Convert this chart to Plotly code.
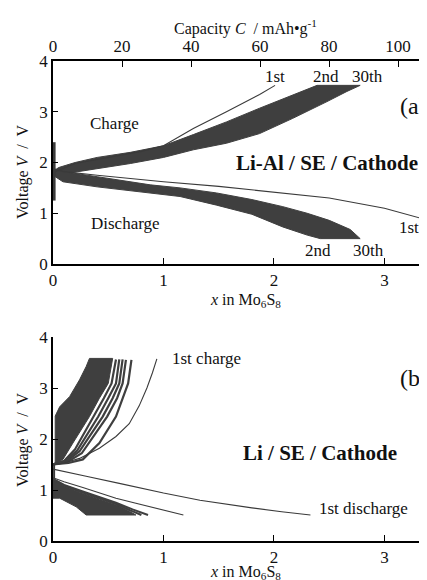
import plotly.graph_objects as go

# ---------------- DATA ----------------
# Panel (a): Li-Al / SE / Cathode  (x in Mo6S8, voltage V)
a_ch1_x = [0.0, 0.2, 0.5, 0.8, 1.0, 1.27, 1.57, 1.87, 2.01]
a_ch1_v = [1.8, 1.98, 2.1, 2.22, 2.33, 2.67, 3.0, 3.34, 3.52]
a_ch2_x = [0.0, 0.05, 0.2, 0.4, 0.7, 1.0, 1.27, 1.57, 1.87, 2.17, 2.39]
a_ch2_v = [1.82, 1.9, 2.0, 2.1, 2.2, 2.33, 2.55, 2.8, 3.07, 3.33, 3.52]
a_ch30_x = [0.0, 0.05, 0.2, 0.4, 0.7, 1.0, 1.27, 1.57, 1.87, 2.17, 2.48, 2.66, 2.78]
a_ch30_v = [1.78, 1.76, 1.82, 1.88, 1.98, 2.1, 2.25, 2.38, 2.57, 2.87, 3.2, 3.4, 3.52]
a_dis1_x = [0.0, 0.1, 0.4, 1.0, 1.5, 2.0, 2.5, 3.0, 3.4]
a_dis1_v = [1.88, 1.82, 1.75, 1.62, 1.53, 1.42, 1.3, 1.1, 0.86]
a_dis2_x = [0.0, 0.09, 0.4, 0.88, 1.15, 1.48, 1.8, 2.08, 2.3, 2.42]
a_dis2_v = [1.75, 1.62, 1.52, 1.40, 1.33, 1.16, 0.98, 0.73, 0.57, 0.5]
a_dis30_x = [0.0, 0.09, 0.4, 0.88, 1.15, 1.48, 1.8, 2.08, 2.3, 2.5, 2.69, 2.78]
a_dis30_v = [1.85, 1.82, 1.72, 1.56, 1.5, 1.40, 1.27, 1.13, 1.0, 0.86, 0.68, 0.5]
a_rest_x = [0.01, 0.01]
a_rest_v = [1.25, 2.4]

# Panel (b): Li / SE / Cathode
b_ch1_x = [0.0, 0.1, 0.24, 0.42, 0.57, 0.69, 0.78, 0.85, 0.9, 0.94]
b_ch1_v = [1.5, 1.53, 1.62, 1.82, 2.05, 2.3, 2.65, 3.0, 3.3, 3.57]
b_chL_x = [0.0, 0.02, 0.02, 0.06, 0.15, 0.24, 0.3, 0.33]
b_chL_v = [1.5, 1.53, 2.45, 2.63, 2.83, 3.16, 3.42, 3.58]
b_chD_x = [0.0, 0.09, 0.18, 0.33, 0.42, 0.5, 0.54]
b_chD_v = [1.5, 1.6, 1.92, 2.44, 2.8, 3.09, 3.58]
b_chs1_x = [0.0, 0.1, 0.2, 0.37, 0.46, 0.53, 0.57]
b_chs1_v = [1.5, 1.57, 1.8, 2.44, 2.8, 3.09, 3.56]
b_chs2_x = [0.0, 0.11, 0.22, 0.41, 0.5, 0.57, 0.6]
b_chs2_v = [1.5, 1.57, 1.78, 2.44, 2.8, 3.09, 3.56]
b_chs3_x = [0.0, 0.12, 0.24, 0.45, 0.54, 0.6, 0.63]
b_chs3_v = [1.5, 1.56, 1.76, 2.44, 2.8, 3.09, 3.56]
b_chs4_x = [0.0, 0.13, 0.26, 0.49, 0.58, 0.63, 0.66]
b_chs4_v = [1.5, 1.55, 1.72, 2.44, 2.8, 3.09, 3.55]
b_chs5_x = [0.0, 0.14, 0.27, 0.42, 0.57, 0.63, 0.68, 0.71]
b_chs5_v = [1.5, 1.53, 1.6, 1.92, 2.44, 2.8, 3.09, 3.55]
b_dis1_x = [0.0, 0.1, 0.3, 0.6, 0.87, 1.0, 1.33, 1.59, 1.8, 2.07, 2.33]
b_dis1_v = [1.41, 1.36, 1.27, 1.13, 1.0, 0.94, 0.8, 0.71, 0.65, 0.575, 0.51]
b_dis2_x = [0.0, 0.1, 0.27, 0.42, 0.57, 0.75, 0.9, 1.05, 1.18]
b_dis2_v = [1.24, 1.16, 1.05, 0.94, 0.84, 0.74, 0.66, 0.58, 0.51]
b_disL_x = [0.0, 0.0, 0.06, 0.13, 0.21, 0.3]
b_disL_v = [1.22, 0.84, 0.84, 0.76, 0.67, 0.51]
b_disD_x = [0.0, 0.1, 0.27, 0.42, 0.57, 0.68, 0.75]
b_disD_v = [1.2, 1.08, 0.93, 0.82, 0.71, 0.6, 0.51]
b_diss1_x = [0.0, 0.1, 0.27, 0.42, 0.57, 0.7, 0.8]
b_diss1_v = [1.21, 1.09, 0.95, 0.84, 0.73, 0.6, 0.51]
b_diss2_x = [0.0, 0.1, 0.27, 0.42, 0.57, 0.72, 0.86]
b_diss2_v = [1.22, 1.1, 0.97, 0.86, 0.75, 0.62, 0.51]
b_rest_x = [0.01, 0.01]
b_rest_v = [1.22, 1.5]

x_ticks = [0, 1, 2, 3]
v_ticks = [0, 1, 2, 3, 4]
cap_ticks = [0, 20, 40, 60, 80, 100]

# ---------------- STYLE ----------------
W, H = 427, 580
OFF = 8                      # page body margin
ML, MT = 53 - OFF, 61 - OFF
MR = W - (427 - OFF)
MB = H - (541 - OFF)
PW, PH = W - ML - MR, H - MT - MB
X_MAX = 3.385
CAP_MAX = 108.4
LINE = "#3a3a3a"
BAND = "#3f3f3f"
FONT = "Liberation Serif"


def px(xp, yp):
    """reference page pixel -> paper fraction"""
    return (xp - OFF - ML) / PW, (H - MB - (yp - OFF)) / PH


fig = go.Figure()


def line(x, y, ax, w=1.1, color=LINE):
    fig.add_trace(go.Scatter(x=x, y=y, mode="lines", xaxis=ax[0], yaxis=ax[1],
                             line=dict(color=color, width=w), hoverinfo="skip",
                             showlegend=False))


def band(x1, y1, x2, y2, ax):
    fig.add_trace(go.Scatter(x=x1 + x2[::-1], y=y1 + y2[::-1], mode="lines",
                             fill="toself", fillcolor=BAND, xaxis=ax[0], yaxis=ax[1],
                             line=dict(color=BAND, width=1), hoverinfo="skip",
                             showlegend=False))


A = ("x", "y")
Bx = ("x2", "y2")

band(a_ch2_x, a_ch2_v, a_ch30_x, a_ch30_v, A)
band(a_dis2_x, a_dis2_v, a_dis30_x, a_dis30_v, A)
line(a_ch1_x, a_ch1_v, A)
line(a_dis1_x, a_dis1_v, A)
line(a_rest_x, a_rest_v, A, w=3)

band(b_chL_x, b_chL_v, b_chD_x, b_chD_v, Bx)
for cx, cv in [(b_chs1_x, b_chs1_v), (b_chs2_x, b_chs2_v), (b_chs3_x, b_chs3_v),
               (b_chs4_x, b_chs4_v), (b_chs5_x, b_chs5_v)]:
    line(cx, cv, Bx, w=2.2, color=BAND)
line(b_ch1_x, b_ch1_v, Bx)
band(b_disL_x, b_disL_v, b_disD_x, b_disD_v, Bx)
line(b_diss1_x, b_diss1_v, Bx, w=2.0, color=BAND)
line(b_diss2_x, b_diss2_v, Bx, w=2.0, color=BAND)
line(b_dis1_x, b_dis1_v, Bx)
line(b_dis2_x, b_dis2_v, Bx)
line(b_rest_x, b_rest_v, Bx, w=2)

# invisible carrier so the top capacity axis is drawn
fig.add_trace(go.Scatter(x=cap_ticks, y=[0] * len(cap_ticks), mode="markers",
                         xaxis="x3", yaxis="y", marker=dict(opacity=0, size=1),
                         hoverinfo="skip", showlegend=False))

axstyle = dict(showline=True, linecolor="black", linewidth=1.6, ticks="inside",
               tickcolor="black", showgrid=False, zeroline=False,
               tickfont=dict(family=FONT, size=17, color="#111"))

fig.update_layout(
    width=W, height=H, paper_bgcolor="white", plot_bgcolor="white",
    margin=dict(l=ML, r=MR, t=MT, b=MB, pad=0),
    font=dict(family=FONT, color="#111"),
    xaxis=dict(axstyle, domain=[0, 1], range=[0, X_MAX], anchor="y", tickvals=x_ticks,
               ticklen=6),
    yaxis=dict(axstyle, domain=[px(0, 264)[1], 1], range=[0, 4], anchor="x",
               tickvals=v_ticks, ticklen=5),
    xaxis3=dict(axstyle, overlaying="x", side="top", anchor="y", range=[0, CAP_MAX],
                tickvals=cap_ticks, ticklen=6),
    xaxis2=dict(axstyle, domain=[0, 1], range=[0, X_MAX], anchor="y2", tickvals=x_ticks,
                ticklen=6),
    yaxis2=dict(axstyle, domain=[0, px(0, 337)[1]], range=[0, 4], anchor="x2",
                tickvals=v_ticks, ticklen=5),
)

anns = [
    ("1st", 275, 76, 17, 0, "center"),
    ("2nd", 326, 76, 17, 0, "center"),
    ("30th", 367, 76, 17, 0, "center"),
    ("(a)", 398, 106, 24, 0, "left"),
    ("Charge", 114, 123, 17, 0, "center"),
    ("Discharge", 125, 223, 17, 0, "center"),
    ("<b>Li-Al / SE / Cathode</b>", 327, 163, 21, 0, "center"),
    ("1st", 409, 227, 17, 0, "center"),
    ("2nd", 318, 250, 17, 0, "center"),
    ("30th", 368, 250, 17, 0, "center"),
    ("Capacity <i>C</i>  / mAh•g<sup>-1</sup>", 245, 27, 16, 0, "center"),
    ("Voltage <i>V</i>  /  V", 23, 172, 16, -90, "center"),
    ("<i>x</i> in Mo<sub>6</sub>S<sub>8</sub>", 246, 300, 16, 0, "center"),
    ("1st charge", 206, 358, 17, 0, "center"),
    ("(b)", 398, 378, 24, 0, "left"),
    ("<b>Li / SE / Cathode</b>", 320, 453, 21, 0, "center"),
    ("1st discharge", 363, 508, 17, 0, "center"),
    ("Voltage <i>V</i>  /  V", 23, 440, 16, -90, "center"),
    ("<i>x</i> in Mo<sub>6</sub>S<sub>8</sub>", 245, 572, 16, 0, "center"),
]
for text, xp, yp, size, ang, anchor in anns:
    fx, fy = px(xp, yp)
    fig.add_annotation(text=text, x=fx, y=fy, xref="paper", yref="paper",
                       xanchor=anchor, yanchor="middle", showarrow=False,
                       textangle=ang, font=dict(family=FONT, size=size, color="#111"))

fig.write_html("out.html")
